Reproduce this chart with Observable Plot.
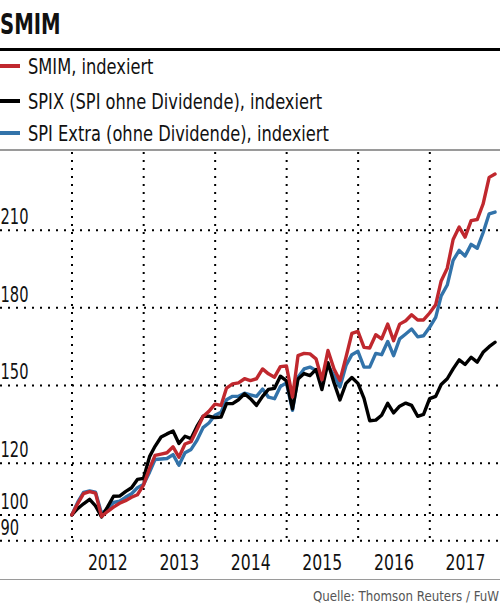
<!DOCTYPE html>
<html>
<head>
<meta charset="utf-8">
<script src="https://cdn.jsdelivr.net/npm/d3@7"></script>
<script src="https://cdn.jsdelivr.net/npm/@observablehq/plot@0.6"></script>
<style>
  body { margin: 0; background: #fff; }
  #wrap { position: relative; width: 500px; height: 603px; overflow: hidden;
    font-family: "Liberation Sans Narrow", "DejaVu Sans Condensed", "Liberation Sans", sans-serif; color: #111; }
  .abs { position: absolute; white-space: nowrap; line-height: 1; }
  #title { left: 0; top: 11px; font-size: 28px; font-weight: bold; transform: scaleX(0.78); transform-origin: 0 0; }
  #rule1 { left: 0; top: 48px; width: 500px; height: 3px; background: #000; }
  .sw { left: 0; width: 20px; height: 4px; }
  .lt { left: 28px; font-size: 21px; transform: scaleX(0.86); transform-origin: 0 0; }
  #rule2 { left: 0; top: 149px; width: 500px; height: 1.5px; background: #9a9a9a; }
  #chart { left: 0; top: 152px; }
  #rule3 { left: 0; top: 578.5px; width: 500px; height: 1.5px; background: #9a9a9a; }
  #src { right: 1px; top: 589px; font-size: 14px; color: #555; transform: scaleX(0.94); transform-origin: 100% 0; }
</style>
</head>
<body>
<div id="wrap">
  <div class="abs" id="title">SMIM</div>
  <div class="abs" id="rule1"></div>
  <div class="abs" id="rule2"></div>
  <div class="abs" id="chart"></div>
  <div class="abs" id="rule3"></div>
  <div class="abs" id="src">Quelle: Thomson Reuters / FuW</div>
</div>
<script>
// Series names and colours
const seriesNames = ["SMIM, indexiert", "SPIX (SPI ohne Dividende), indexiert", "SPI Extra (ohne Dividende), indexiert"];
const seriesKeys = ["SMIM", "SPIX", "SPIExtra"];
const seriesColors = ["#c0282e", "#000000", "#3273aa"];

// Month-end observations, Dec 2011 .. Nov 2017 (72 months)
const firstMonth = "2011-12";
const monthCount = 72;

const smim = [100, 104.5, 108.2, 109, 108.4, 99.4, 101.3, 103, 104.5, 105.5, 106.8, 107.8,
  111.5, 118, 123, 123.5, 124, 126.3, 122.3, 127.4, 128.3, 133, 138, 140,
  142.8, 142.3, 149, 150.6, 151, 152.6, 151.9, 152.6, 156.4, 154.5, 153.2, 157.3,
  157.5, 145.5, 161.5, 162.4, 162.2, 160.3, 152.2, 163.5, 156.4, 151.9, 160.9, 170.1,
  170.9, 164.7, 164.5, 169.6, 168, 173.7, 167.3, 173.7, 175, 177.3, 175.3, 175.3,
  178, 181.2, 190.4, 195.3, 206.4, 211.2, 207.3, 213.7, 214.1, 220.1, 230.4, 231.7];

const spix = [100, 102.5, 104.3, 106, 103.5, 99.2, 103, 107.2, 107.3, 109, 110.5, 113.7,
  114.1, 122.5, 126.5, 130.1, 131.3, 132.4, 127.6, 130.4, 129.5, 134.2, 138.1, 138.1,
  137.6, 137.8, 143, 143, 144.5, 146.8, 144.9, 142.3, 145.8, 148.5, 148.9, 153.6,
  151.8, 141, 152.5, 154.6, 153.8, 156.2, 148.4, 158.8, 151, 144.4, 150.8, 153.1,
  150.8, 145, 136.4, 136.6, 138.5, 143.1, 139.4, 142, 143.2, 142.3, 138.1, 138.8,
  144.9, 145.8, 150.4, 152.6, 156.4, 159.9, 158.1, 160.9, 159, 162.8, 165, 166.7];

const spiExtra = [100, 105, 108.7, 109.3, 108.8, 100.5, 102.3, 104.8, 105.3, 106.8, 108.2, 110.5,
  111.8, 116.5, 121.4, 121.6, 121.8, 123.3, 119.2, 124, 125.3, 128.8, 133.7, 135.5,
  138.5, 139.7, 144.5, 145.8, 145.8, 147, 146.4, 145.8, 148.6, 145.5, 144.9, 149.6,
  151, 140.4, 153.2, 156.4, 157.1, 155.8, 151.9, 157.7, 153.8, 149.4, 157.7, 161.9,
  163.2, 157.1, 157.1, 162.4, 161.9, 167, 161.5, 168, 169.9, 171.8, 168.8, 169.2,
  172.5, 176.3, 184.6, 188.8, 198.3, 202.2, 200, 204.5, 203, 209, 216.3, 217];

// Axis ticks
const yTicks = [90, 100, 120, 150, 180, 210];
const years = [2012, 2013, 2014, 2015, 2016, 2017];
const yDomain = [90, 240];

// ----- build table -----
const start = d3.utcParse("%Y-%m")(firstMonth);
const dates = d3.range(monthCount).map(i => d3.utcDay.offset(d3.utcMonth.offset(start, i + 1), -1));
const valuesByKey = {SMIM: smim, SPIX: spix, SPIExtra: spiExtra};
const drawOrder = ["SPIExtra", "SPIX", "SMIM"];
const rows = [];
for (const k of drawOrder) valuesByKey[k].forEach((v, i) => rows.push({key: k, date: dates[i], value: v}));
const colorOf = Object.fromEntries(seriesKeys.map((k, i) => [k, seriesColors[i]]));

// legend
const wrap = document.getElementById("wrap");
const baseTops = [57, 91.5, 124];
seriesNames.forEach((name, i) => {
  const sw = document.createElement("div");
  sw.className = "abs sw";
  sw.style.top = (baseTops[i] + 7) + "px";
  sw.style.background = seriesColors[i];
  wrap.appendChild(sw);
  const t = document.createElement("div");
  t.className = "abs lt";
  t.style.top = baseTops[i] + "px";
  t.textContent = name;
  wrap.appendChild(t);
});

const yearStarts = years.map(y => new Date(Date.UTC(y, 0, 1)));
const yearMids = years.map(y => new Date(Date.UTC(y, 6, 2)));
const dotted = {stroke: "#000", strokeWidth: 2, strokeDasharray: "2,6"};

const plot = Plot.plot({
  width: 500,
  height: 426,
  marginTop: 0,
  marginBottom: 37.7,
  marginLeft: 0,
  marginRight: 0,
  style: {fontSize: "21px", fontFamily: '"Liberation Sans Narrow", "DejaVu Sans Condensed", "Liberation Sans", sans-serif', color: "#111", background: "transparent", overflow: "visible"},
  x: {type: "utc", domain: [new Date(Date.UTC(2012, 0, 1)), new Date(Date.UTC(2018, 0, 1))], range: [71.5, 500.8]},
  y: {domain: yDomain, axis: null},
  marks: [
    Plot.ruleY(yTicks, {y: d => d, ...dotted}),
    Plot.ruleX(yearStarts, {x: d => d, ...dotted}),
    Plot.line(rows, {x: "date", y: "value", z: "key", stroke: d => colorOf[d.key], strokeWidth: 3.4, strokeLinejoin: "round"}),
    Plot.text(yTicks, {y: d => d, text: d => String(d), frameAnchor: "left", textAnchor: "start", lineAnchor: "bottom", dy: -6, fill: "#111", fontSize: 22}),
    Plot.axisX({ticks: yearMids, tickSize: 0, tickPadding: 14.5, tickFormat: d => String(d.getUTCFullYear()), label: null})
  ]
});
document.getElementById("chart").appendChild(plot);

// narrow the glyphs to approximate the condensed type of the original
function condense(sel, f) {
  d3.select(plot).selectAll(sel).each(function () {
    const w = this.getComputedTextLength();
    if (w > 0) {
      this.setAttribute("textLength", w * f);
      this.setAttribute("lengthAdjust", "spacingAndGlyphs");
    }
  });
}
condense('g[aria-label="text"] text', 0.74);
condense('g[aria-label="x-axis tick label"] text', 0.83);
</script>
</body>
</html>
